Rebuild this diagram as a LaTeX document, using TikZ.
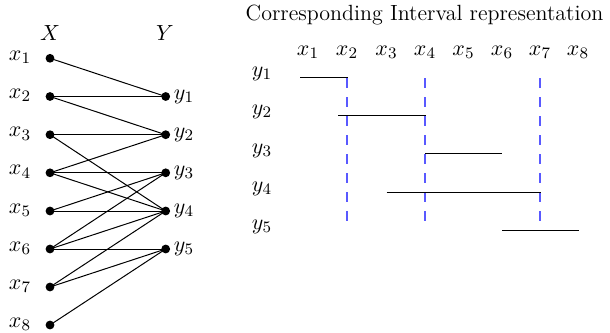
\documentclass[tikz,11pt,border=0pt]{standalone}
\begin{document}
\begin{tikzpicture}[x=0.5pt,y=-0.5pt,
  every node/.style={font=\fontsize{11}{13.6}\selectfont},
  dot/.style={circle,fill,inner sep=0pt,minimum size=4.4pt},
  lbl/.style={inner sep=0pt},
  edge/.style={line width=0.5pt},
  ivl/.style={line width=0.5pt},
  vdash/.style={blue!65, dash pattern=on 5pt off 4.5pt, line width=0.65pt}]
\useasboundingbox (0,0) rectangle (610,332);
% bipartite graph
\node[lbl] (tX) at (50,33) {$X$};
\node[lbl] (tY) at (165,33) {$Y$};
\foreach \i/\yy in {1/58.3,2/96.5,3/134.7,4/172.8,5/211,6/249,7/287,8/325}{
  \node[dot] (x\i) at (50,\yy) {};
  \node[lbl] (lx\i) at (20,\yy-1) {$x_{\i}$};
}
\foreach \i/\yy in {1/96.5,2/134.7,3/172.8,4/211,5/249}{
  \node[dot] (y\i) at (165.7,\yy) {};
  \node[lbl] (ly\i) at (184,\yy) {$y_{\i}$};
}
\foreach \a/\b in {1/1,2/1,2/2,3/2,3/4,4/2,4/3,4/4,5/3,5/4,6/3,6/4,6/5,7/4,7/5,8/5}{
  \draw[edge] (x\a.center) -- (y\b.center);
}
% interval representation
\node[lbl] (title) at (424.5,15) {Corresponding Interval representation};
\foreach \i/\xx in {1/308,2/347,3/386.5,4/425,5/463.5,6/502,7/540,8/578}{
  \node[lbl] (cx\i) at (\xx,52) {$x_{\i}$};
}
\foreach \i/\yy in {1/77,2/115,3/153.5,4/192,5/230}{
  \node[lbl] (cy\i) at (262,\yy-3) {$y_{\i}$};
}
\foreach \xx/\n in {347/a,425/b,540/c}{
  \coordinate (d\n1) at (\xx,78);
  \coordinate (d\n2) at (\xx,221);
  \draw[vdash] (d\n1) -- (d\n2);
}
\coordinate (i1a) at (300,77);  \coordinate (i1b) at (347.5,77);
\coordinate (i2a) at (338,115); \coordinate (i2b) at (425.5,115);
\coordinate (i3a) at (425,153.5); \coordinate (i3b) at (501.5,153.5);
\coordinate (i4a) at (386.5,192); \coordinate (i4b) at (540.5,192);
\coordinate (i5a) at (502,230); \coordinate (i5b) at (578.5,230);
\foreach \k in {1,...,5}{\draw[ivl] (i\k a) -- (i\k b);}
\end{tikzpicture}
\end{document}
